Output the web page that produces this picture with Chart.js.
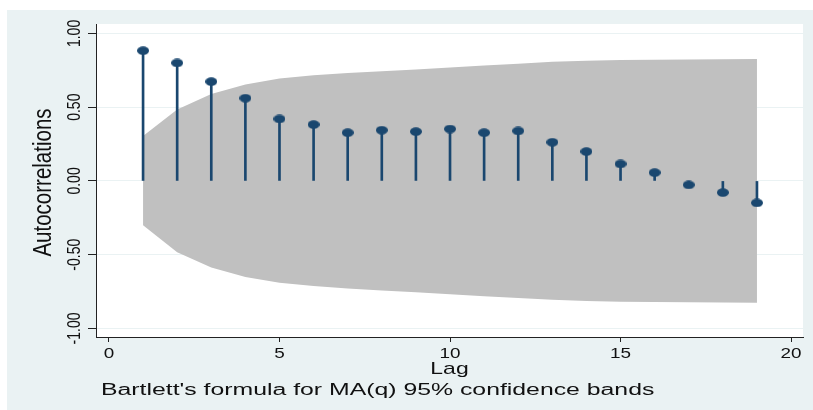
<!DOCTYPE html>
<html>
<head>
<meta charset="utf-8">
<script src="https://cdn.jsdelivr.net/npm/chart.js@4.4.1/dist/chart.umd.min.js"></script>
<style>
  html, body { margin: 0; padding: 0; background: #ffffff; }
  #wrap { position: relative; width: 813px; height: 410px; }
  canvas { display: block; }
</style>
</head>
<body>
<div id="wrap"><canvas id="c" width="813" height="410"></canvas></div>
<script>
// ---- data ----
const lags = [1, 2, 3, 4, 5, 6, 7, 8, 9, 10, 11, 12, 13, 14, 15, 16, 17, 18, 19];
const autocorr = [0.883, 0.800, 0.673, 0.561, 0.420, 0.382, 0.327, 0.344, 0.334, 0.352,
                  0.327, 0.339, 0.262, 0.199, 0.115, 0.056, -0.027, -0.079, -0.149];
const bandUpper = [0.305, 0.485, 0.590, 0.654, 0.694, 0.717, 0.731, 0.743, 0.756, 0.769,
                   0.782, 0.795, 0.808, 0.815, 0.820, 0.822, 0.824, 0.825, 0.826];
const bandLower = [-0.300, -0.484, -0.587, -0.651, -0.690, -0.713, -0.729, -0.742, -0.755, -0.768,
                   -0.781, -0.794, -0.806, -0.814, -0.819, -0.821, -0.823, -0.824, -0.825];
const xTicks = [0, 5, 10, 15, 20];
const yTicks = [-1, -0.5, 0, 0.5, 1];
const yTickLabels = ['-1.00', '-0.50', '0.00', '0.50', '1.00'];
const xTitle = 'Lag';
const yTitle = 'Autocorrelations';
const noteText = "Bartlett's formula for MA(q) 95% confidence bands";

// ---- styles ----
const NAVY = '#1a476f';
const BAND = '#c0c0c0';
const PANEL = '#eaf2f3';
const AXIS = '#222222';
const FONT = '"Liberation Sans", Arial, sans-serif';

// elliptical marker
const marker = document.createElement('canvas');
marker.width = 12; marker.height = 9;
(function () {
  const m = marker.getContext('2d');
  m.fillStyle = NAVY;
  m.beginPath();
  m.ellipse(6, 4.5, 6, 4.2, 0, 0, Math.PI * 2);
  m.fill();
})();

function drawText(ctx, s, x, y, size, sx, rotate, align) {
  ctx.save();
  ctx.translate(x, y);
  ctx.scale(sx, 1);
  if (rotate) ctx.rotate(-Math.PI / 2);
  ctx.font = size + 'px ' + FONT;
  ctx.textAlign = align || 'center';
  ctx.textBaseline = 'middle';
  ctx.fillStyle = '#111111';
  ctx.fillText(s, 0, 0);
  ctx.restore();
}

const backgroundPlugin = {
  id: 'bg',
  beforeDraw(chart) {
    const ctx = chart.ctx, a = chart.chartArea;
    ctx.save();
    ctx.fillStyle = '#ffffff';
    ctx.fillRect(0, 0, chart.width, chart.height);
    ctx.fillStyle = PANEL;
    ctx.fillRect(7, 10, chart.width - 7, chart.height - 10);
    ctx.fillStyle = '#ffffff';
    ctx.fillRect(a.left, a.top, a.right - a.left, a.bottom - a.top);
    ctx.restore();
  }
};

const textPlugin = {
  id: 'texts',
  afterDraw(chart) {
    const ctx = chart.ctx, xs = chart.scales.x, ys = chart.scales.y, a = chart.chartArea;
    xTicks.forEach(v => drawText(ctx, String(v), xs.getPixelForValue(v), 354, 14, 1.35, false));
    yTicks.forEach((v, i) => drawText(ctx, yTickLabels[i], 75, ys.getPixelForValue(v), 14, 1.3, true));
    drawText(ctx, yTitle, 44, (a.top + a.bottom) / 2 + 2, 20.5, 1.28, true);
    drawText(ctx, xTitle, (a.left + a.right) / 2, 369, 17, 1.35, false);
    drawText(ctx, noteText, 101, 391, 16, 1.55, false, 'left');
  }
};

new Chart(document.getElementById('c'), {
  data: {
    datasets: [
      {
        type: 'line',
        data: lags.map((l, i) => ({ x: l, y: bandUpper[i] })),
        borderWidth: 0,
        borderColor: 'rgba(0,0,0,0)',
        backgroundColor: BAND,
        pointRadius: 0,
        tension: 0,
        fill: '+1',
        order: 10
      },
      {
        type: 'line',
        data: lags.map((l, i) => ({ x: l, y: bandLower[i] })),
        borderWidth: 0,
        borderColor: 'rgba(0,0,0,0)',
        backgroundColor: BAND,
        pointRadius: 0,
        tension: 0,
        fill: false,
        order: 9
      },
      {
        type: 'bar',
        data: lags.map((l, i) => ({ x: l, y: [0, autocorr[i]] })),
        backgroundColor: NAVY,
        borderWidth: 0,
        barThickness: 2,
        order: 2
      },
      {
        type: 'line',
        data: lags.map((l, i) => ({ x: l, y: autocorr[i] })),
        showLine: false,
        pointStyle: marker,
        pointRadius: 5,
        order: 1
      }
    ]
  },
  options: {
    responsive: false,
    animation: false,
    events: [],
    layout: { padding: { left: 0, top: 24, right: 10, bottom: 0 } },
    plugins: { legend: { display: false }, tooltip: { enabled: false }, title: { display: false } },
    scales: {
      x: {
        type: 'linear',
        min: -0.38,
        max: 20.35,
        offset: false,
        afterBuildTicks: s => { s.ticks = xTicks.map(v => ({ value: v })); },
        afterFit: s => { s.height = 73; },
        ticks: { display: false },
        grid: { offset: false, drawOnChartArea: false, drawTicks: true, tickLength: 5, tickColor: AXIS, tickWidth: 1 },
        border: { display: true, color: AXIS, width: 1 }
      },
      y: {
        type: 'linear',
        min: -1.058,
        max: 1.064,
        afterBuildTicks: s => { s.ticks = yTicks.map(v => ({ value: v })); },
        afterFit: s => { s.width = 96; },
        ticks: { display: false },
        grid: { color: PANEL, lineWidth: 1, drawTicks: true, tickLength: 8, tickColor: AXIS, tickWidth: 1 },
        border: { display: true, color: AXIS, width: 1 }
      }
    }
  },
  plugins: [backgroundPlugin, textPlugin]
});
</script>
</body>
</html>
